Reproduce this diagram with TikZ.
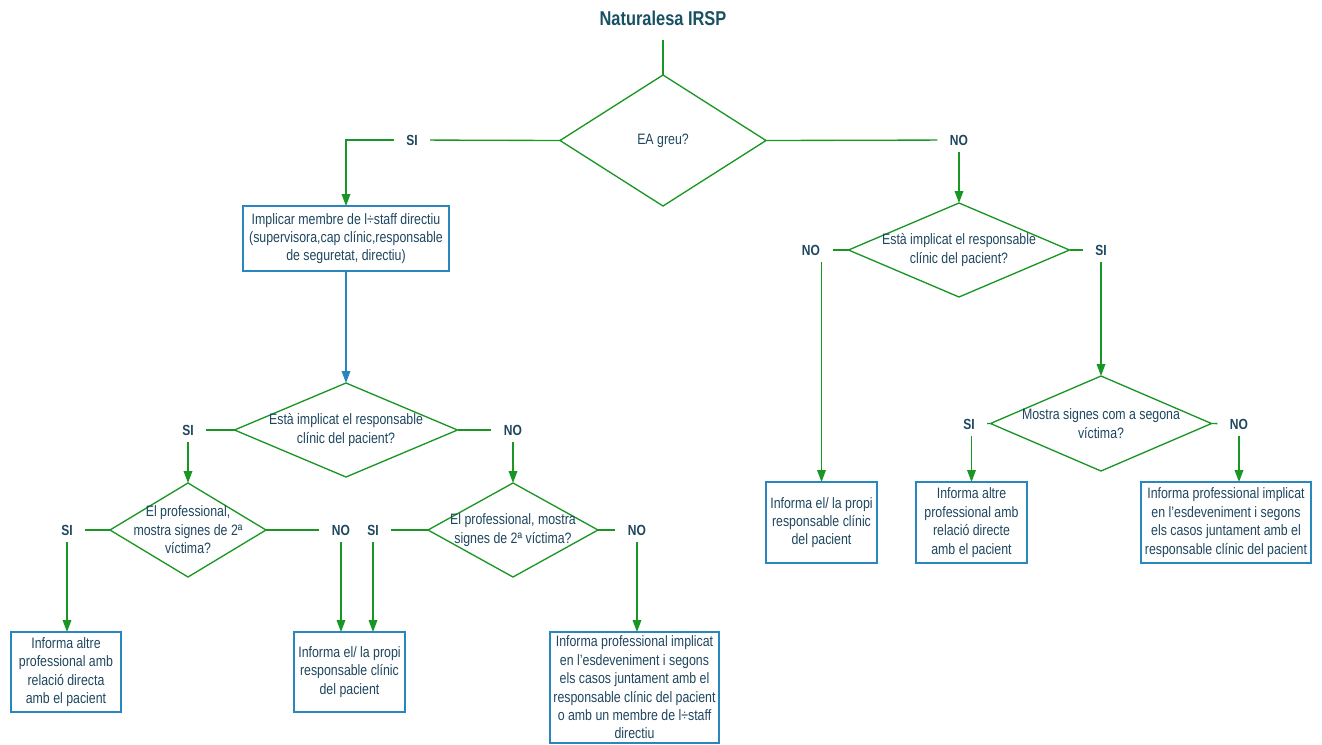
\documentclass[tikz,border=0pt]{standalone}
\usepackage{fontspec}
\setmainfont[FakeStretch=0.82]{Liberation Sans}
\usetikzlibrary{shapes.geometric,arrows.meta}

\definecolor{flowgreen}{RGB}{25,150,35}
\definecolor{boxblue}{RGB}{40,135,190}
\definecolor{inktext}{RGB}{30,70,95}
\definecolor{titleink}{RGB}{24,80,100}

\tikzset{every picture/.style={line width=0.75pt},
	decision/.style={draw=flowgreen, line width=1pt, diamond, inner sep=0pt, outer sep=0pt},
	dtext/.style={text=inktext, align=center, inner sep=0pt, font=\fontsize{11.3}{13.8}\selectfont},
	process/.style={draw=boxblue, line width=1pt, rectangle, inner sep=0pt, outer sep=0pt, align=center, text=inktext, font=\fontsize{11.3}{13.8}\selectfont},
	answer/.style={text=inktext, font=\bfseries\fontsize{11}{13}\selectfont, inner xsep=9pt, inner ysep=5pt},
	flow/.style={draw=flowgreen, line width=1pt},
	flowarrow/.style={flow, -{Triangle[length=9pt,width=6.5pt]}},
}

\begin{document}
\begin{tikzpicture}[x=0.75pt,y=0.75pt,yscale=-1,xscale=1]
	\useasboundingbox (0,0) rectangle (1322,744);
	%Title
	\node [text=titleink, font=\bfseries\fontsize{15}{18}\selectfont] (title) at (663,18) {Naturalesa IRSP};
	\coordinate (start) at (663,40);
	
	%Decisions
	\node [decision, minimum width=154.5pt, minimum height=98.25pt, label={[dtext]center:{EA greu?}}] (d1) at (663,140.5) {};
	\node [decision, minimum width=167.25pt, minimum height=70.5pt, label={[dtext]center:{Està implicat el responsable\\clínic del pacient?}}] (d2) at (346,430) {};
	\node [decision, minimum width=117pt, minimum height=70.5pt, label={[dtext]center:{El professional,\\mostra signes de 2ª\\víctima?}}] (d3) at (188,530) {};
	\node [decision, minimum width=127.5pt, minimum height=70.5pt, label={[dtext]center:{El professional, mostra\\signes de 2ª víctima?}}] (d4) at (513,530) {};
	\node [decision, minimum width=165.75pt, minimum height=70.5pt, label={[dtext]center:{Està implicat el responsable\\clínic del pacient?}}] (d5) at (959,250) {};
	\node [decision, minimum width=165.75pt, minimum height=71.25pt, label={[dtext]center:{Mostra signes com a segona\\víctima?}}] (d6) at (1101,423.5) {};
	
	%Processes
	\node [process, minimum width=154.5pt, minimum height=48.75pt] (b1) at (346,238.5) {Implicar membre de l÷staff directiu\\(supervisora,cap clínic,responsable\\de seguretat, directiu)};
	\node [process, minimum width=82.5pt, minimum height=60pt] (bA) at (66,672) {Informa altre\\professional amb\\relació directa\\amb el pacient};
	\node [process, minimum width=83.25pt, minimum height=60pt] (bB) at (349.5,672) {Informa el/ la propi\\responsable clínic\\del pacient};
	\node [process, minimum width=126.75pt, minimum height=83.25pt] (bC) at (634.5,687.5) {Informa professional implicat\\en l'esdeveniment i segons\\els casos juntament amb el\\responsable clínic del pacient\\o amb un membre de l÷staff\\directiu};
	\node [process, minimum width=83.25pt, minimum height=60.75pt] (bD) at (821.5,522.5) {Informa el/ la propi\\responsable clínic\\del pacient};
	\node [process, minimum width=83.25pt, minimum height=60.75pt] (bE) at (971.5,522.5) {Informa altre\\professional amb\\relació directe\\amb el pacient};
	\node [process, minimum width=127.5pt, minimum height=60.75pt] (bF) at (1226,522.5) {Informa professional implicat\\en l'esdeveniment i segons\\els casos juntament amb el\\responsable clínic del pacient};
	
	%Answers
	\node [answer] (si1) at (412,140) {SI};
	\node [answer] (no1) at (959,140) {NO};
	\node [answer] (si2) at (188,430) {SI};
	\node [answer] (no2) at (513,430) {NO};
	\node [answer] (si3) at (67,530) {SI};
	\node [answer] (no3) at (341,530) {NO};
	\node [answer] (si4) at (373,530) {SI};
	\node [answer] (no4) at (637,530) {NO};
	\node [answer] (no5) at (811,250) {NO};
	\node [answer] (si5) at (1101,250) {SI};
	\node [answer] (si6) at (969,424) {SI};
	\node [answer] (no6) at (1239,424) {NO};
	
	%Straight Lines
	\draw [flow] (start) -- (d1);
	\draw [flow] (d1.west) -- (si1);
	\draw [flowarrow] (si1) -| (b1);
	\draw [flow] (d1.east) -- (no1);
	\draw [flowarrow] (no1) -- (d5);
	\draw [flowarrow, draw=boxblue] (b1) -- (d2);
	
	\draw [flow] (d2.west) -- (si2);
	\draw [flowarrow] (si2) -- (d3);
	\draw [flow] (d2.east) -- (no2);
	\draw [flowarrow] (no2) -- (d4);
	
	\draw [flow] (d3.west) -- (si3);
	\draw [flowarrow] (si3) -- (si3 |- bA.north);
	\draw [flow] (d3.east) -- (no3);
	\draw [flowarrow] (no3) -- (no3 |- bB.north);
	\draw [flow] (d4.west) -- (si4);
	\draw [flowarrow] (si4) -- (si4 |- bB.north);
	\draw [flow] (d4.east) -- (no4);
	\draw [flowarrow] (no4) -- (no4 |- bC.north);
	
	\draw [flow] (d5.west) -- (no5);
	\draw [flowarrow] (no5.south -| bD) -- (bD);
	\draw [flow] (d5.east) -- (si5);
	\draw [flowarrow] (si5) -- (d6);
	
	\draw [flow] (d6.west) -- (si6);
	\draw [flowarrow] (si6.south -| bE) -- (bE);
	\draw [flow] (d6.east) -- (no6);
	\draw [flowarrow] (no6) -- (no6 |- bF.north);
\end{tikzpicture}
\end{document}
